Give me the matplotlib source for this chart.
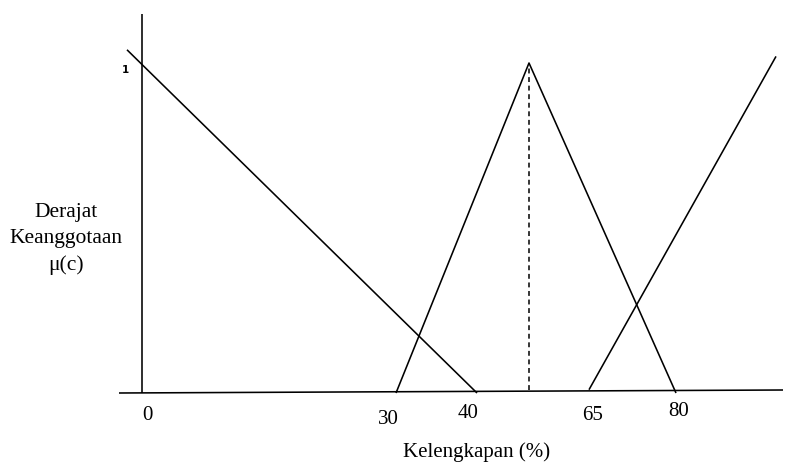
import matplotlib
matplotlib.use("Agg")
import matplotlib.pyplot as plt


# schematic positions along the drawn x axis (the sketch is not to scale)
rendah_x = [127, 477]
rendah_mu = [1.04, 0.0]

sedang_x = [396, 529, 676]
sedang_mu = [0.0, 1.0, 0.0]

tinggi_x = [589, 776]
tinggi_mu = [0.01, 1.02]

puncak_x = [529, 529]
puncak_mu = [0.01, 0.985]

tick_labels = ["0", "30", "40", "65", "80"]
tick_x = [147, 388, 468, 593, 679]
tick_y = [416, 419, 413, 416, 411]

X_LABEL = "Kelengkapan (%)"
Y_LABEL = ["Derajat", "Keanggotaan", "\u03bc(c)"]

# mu = 0 sits at pixel row 393, mu = 1 at row 63
BASE = 393
SCALE = 330


def to_px(mu):
    return [BASE - SCALE * m for m in mu]


fig = plt.figure(figsize=(7.85, 4.63), dpi=100)
ax = fig.add_axes([0, 0, 1, 1])
ax.set_xlim(0, 785)
ax.set_ylim(463, 0)
ax.axis("off")

line_kw = dict(color="black", lw=1.15, solid_capstyle="butt")

# axes of the sketch
ax.plot([142, 142], [BASE, 14], **line_kw)
ax.plot([119, 783], [BASE, 390], **line_kw)

ax.plot(rendah_x, to_px(rendah_mu), **line_kw)
ax.plot(sedang_x, to_px(sedang_mu), **line_kw)
ax.plot(tinggi_x, to_px(tinggi_mu), **line_kw)
ax.plot(puncak_x, to_px(puncak_mu), color="black", lw=1.1,
        linestyle=(0, (3.2, 2.4)))

serif = "Liberation Serif"
for label, x, y in zip(tick_labels, tick_x, tick_y):
    ax.text(x, y, label, family=serif, fontsize=15, ha="center", va="center")

ax.text(125, 70, "1", family="DejaVu Sans", fontsize=7.5, fontweight="heavy",
        ha="center", va="center")

ax.text(477, 452, X_LABEL, family=serif, fontsize=15, ha="center", va="center")

for i, line in enumerate(Y_LABEL):
    ax.text(66, 213 + 26 * i, line, family=serif, fontsize=15.5,
            ha="center", va="center")

fig.savefig("out.png", dpi=100)
